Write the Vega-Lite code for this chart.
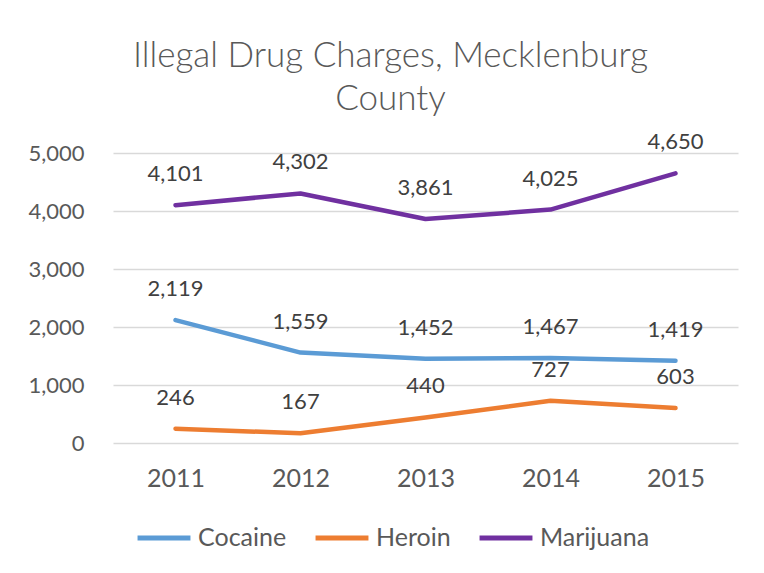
{
  "$schema": "https://vega.github.io/schema/vega-lite/v6.json",
  "autosize": "none",
  "width": 625,
  "height": 290,
  "padding": {"left": 113, "top": 153, "right": 26, "bottom": 130},
  "background": "white",
  "title": {
    "text": ["Illegal Drug Charges, Mecklenburg", "County"],
    "font": "Lato",
    "fontWeight": 300,
    "fontSize": 35,
    "color": "#595959",
    "lineHeight": 43,
    "anchor": "middle",
    "dx": -35,
    "offset": 14
  },
  "data": {
    "values": [
      {"year": "2011", "drug": "Cocaine", "charges": 2119},
      {"year": "2012", "drug": "Cocaine", "charges": 1559},
      {"year": "2013", "drug": "Cocaine", "charges": 1452},
      {"year": "2014", "drug": "Cocaine", "charges": 1467},
      {"year": "2015", "drug": "Cocaine", "charges": 1419},
      {"year": "2011", "drug": "Heroin", "charges": 246},
      {"year": "2012", "drug": "Heroin", "charges": 167},
      {"year": "2013", "drug": "Heroin", "charges": 440},
      {"year": "2014", "drug": "Heroin", "charges": 727},
      {"year": "2015", "drug": "Heroin", "charges": 603},
      {"year": "2011", "drug": "Marijuana", "charges": 4101},
      {"year": "2012", "drug": "Marijuana", "charges": 4302},
      {"year": "2013", "drug": "Marijuana", "charges": 3861},
      {"year": "2014", "drug": "Marijuana", "charges": 4025},
      {"year": "2015", "drug": "Marijuana", "charges": 4650}
    ]
  },
  "encoding": {
    "x": {
      "field": "year",
      "type": "ordinal",
      "scale": {"type": "point", "padding": 0.5},
      "axis": {
        "title": null,
        "labelAngle": 0,
        "domain": false,
        "ticks": false,
        "grid": false,
        "labelFont": "Lato",
        "labelFontSize": 25,
        "labelColor": "#595959",
        "labelPadding": 23
      }
    },
    "y": {
      "field": "charges",
      "type": "quantitative",
      "scale": {"domain": [0, 5000]},
      "axis": {
        "title": null,
        "values": [0, 1000, 2000, 3000, 4000, 5000],
        "format": ",.0f",
        "domain": false,
        "ticks": false,
        "gridColor": "#d9d9d9",
        "gridWidth": 1.3,
        "labelFont": "Lato",
        "labelFontSize": 22,
        "labelColor": "#595959",
        "labelPadding": 29
      }
    },
    "color": {
      "field": "drug",
      "type": "nominal",
      "scale": {"domain": ["Cocaine", "Heroin", "Marijuana"], "range": ["#5b9bd5", "#ed7d31", "#7030a0"]},
      "legend": {
        "title": null,
        "orient": "none",
        "legendX": 22,
        "legendY": 356,
        "direction": "horizontal",
        "symbolType": "stroke",
        "symbolStrokeWidth": 5,
        "symbolSize": 2800,
        "labelFont": "Lato",
        "labelFontSize": 25,
        "labelColor": "#595959",
        "labelOffset": 5,
        "columnPadding": 18
      }
    }
  },
  "layer": [
    {
      "mark": {"type": "line", "strokeWidth": 4.5, "strokeCap": "round", "strokeJoin": "round"}
    },
    {
      "mark": {"type": "text", "dy": -31, "baseline": "middle", "font": "Lato", "fontSize": 22, "color": "#404040"},
      "encoding": {
        "text": {"field": "charges", "type": "quantitative", "format": ","},
        "color": {"value": "#404040"}
      }
    }
  ],
  "config": {"view": {"stroke": null}}
}
